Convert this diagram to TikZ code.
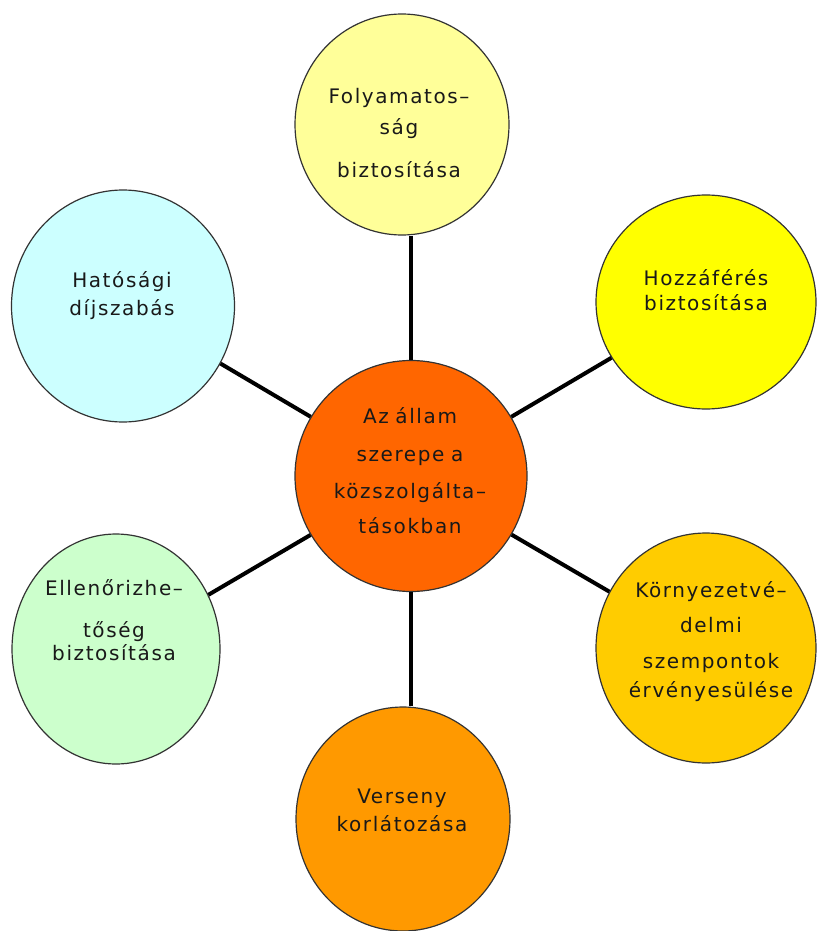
\documentclass[tikz,border=0pt]{standalone}
\usepackage{fontspec}
\newfontfamily\diafont[LetterSpace=8]{DejaVu Sans}
\usetikzlibrary{shapes.geometric}
\definecolor{hubfill}{HTML}{FF6600}
\definecolor{folyamfill}{HTML}{FFFF99}
\definecolor{hatosagifill}{HTML}{CCFFFF}
\definecolor{hozzafill}{HTML}{FFFF00}
\definecolor{ellenfill}{HTML}{CCFFCC}
\definecolor{kornyfill}{HTML}{FFCC00}
\definecolor{versenyfill}{HTML}{FF9900}
\tikzset{
  bubble/.style={ellipse, draw=black!80, line width=1.2pt, inner sep=0pt},
  bubbletext/.style={font=\diafont\fontsize{20}{25}\selectfont, text=black!90,
    text width=230pt, align=center, anchor=base, inner sep=0pt},
  spoke/.style={line width=4pt, black}
}
\begin{document}
\begin{tikzpicture}[x=1pt,y=-1pt]
    \useasboundingbox (0,0) rectangle (816,931);

    \node [bubble, fill=folyamfill, minimum width=214pt, minimum height=221pt] (folyam) at (402,124.5) {};
    \node [bubble, fill=hatosagifill, minimum width=223pt, minimum height=232pt] (hatosagi) at (123,306) {};
    \node [bubble, fill=hozzafill, minimum width=220pt, minimum height=214pt] (hozza) at (706,302) {};
    \node [bubble, fill=ellenfill, minimum width=208pt, minimum height=230pt] (ellen) at (116,649) {};
    \node [bubble, fill=kornyfill, minimum width=220pt, minimum height=230pt] (korny) at (706,648) {};
    \node [bubble, fill=versenyfill, minimum width=214pt, minimum height=224pt] (verseny) at (403,819) {};
    \node [bubble, fill=hubfill, minimum width=232pt, minimum height=231pt] (hub) at (411,476) {};

    \draw [spoke] (hub.north) -- (hub.north |- folyam.south);
    \draw [spoke] (hub.south) -- (hub.south |- verseny.north);
    \draw [spoke] (hub) -- (hatosagi);
    \draw [spoke] (hub) -- (hozza);
    \draw [spoke] (hub) -- (ellen);
    \draw [spoke] (hub) -- (korny);

    \node [bubbletext] (folyamtext) at (399,103) {Folyamatos–\\[7pt]ság\\[17pt]biztosítása};
    \node [bubbletext] (hatosagitext) at (122,287) {Hatósági\\[3pt]díjszabás};
    \node [bubbletext] (hozzatext) at (706,285) {Hozzáférés\\biztosítása};
    \node [bubbletext] (hubtext) at (410,423) {Az állam\\[13pt]szerepe a\\[12pt]közszolgálta–\\[10pt]tásokban};
    \node [bubbletext] (ellentext) at (114,595) {Ellenőrizhe–\\[17pt]tőség\\[-2pt]biztosítása};
    \node [bubbletext] (kornytext) at (711,597) {Környezetvé–\\[10pt]delmi\\[11pt]szempontok\\[4pt]érvényesülése};
    \node [bubbletext] (versenytext) at (402,803) {Verseny\\[3pt]korlátozása};
\end{tikzpicture}
\end{document}
